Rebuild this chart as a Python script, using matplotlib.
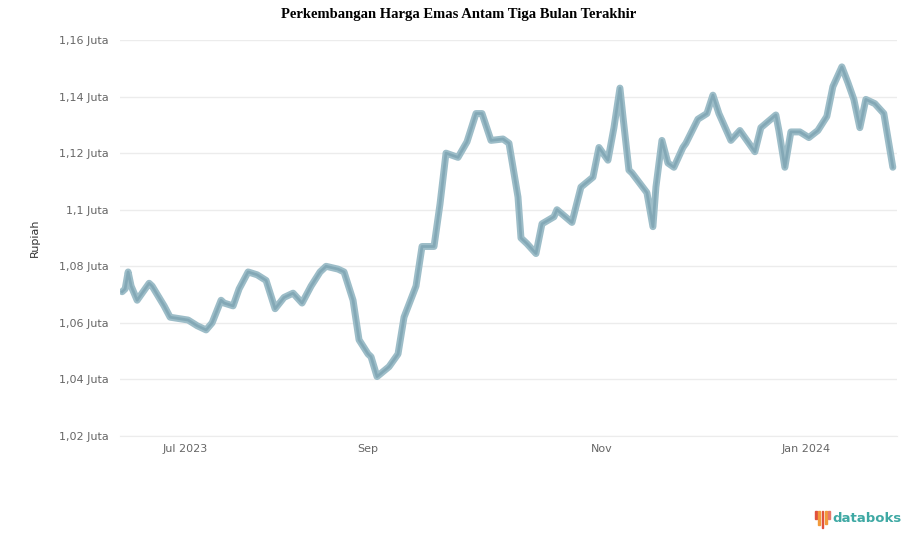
import numpy as np
import matplotlib.pyplot as plt
from matplotlib.patches import Rectangle

# Observation number (trading day index) and Antam gold price (Rupiah)
obs = [0, 1, 2, 3, 5, 9, 10, 14, 16, 22, 25, 28, 30, 33, 34, 37, 39, 42, 45, 48,
       51, 54, 57, 60, 63, 66, 68, 72, 74, 77, 79, 82, 83, 85, 89, 92, 94, 98, 100, 104,
       106, 108, 112, 115, 118, 120, 123, 127, 129, 132, 133, 135, 138, 140, 144, 145, 150, 153, 157, 159,
       162, 164, 166, 167, 169, 170, 175, 177, 178, 180, 182, 184, 187, 188, 192, 195, 197, 199, 203, 206,
       211, 213, 218, 219, 221, 223, 226, 229, 232, 235, 237, 240, 242, 244, 246, 248, 251, 254, 257]
harga = [1071000, 1072000, 1078000, 1073000, 1068000, 1074000, 1073000, 1066000, 1062000, 1061000,
         1059000, 1057500, 1060000, 1068000, 1067000, 1066000, 1072000, 1078000, 1077000, 1075000,
         1065000, 1069000, 1070500, 1067000, 1073000, 1078000, 1080000, 1079000, 1078000, 1068000,
         1054000, 1049000, 1048000, 1041000, 1044500, 1049000, 1062000, 1073000, 1087000, 1087000,
         1102000, 1120000, 1118500, 1124000, 1134000, 1134000, 1124500, 1125000, 1123500, 1104500,
         1090000, 1088000, 1084500, 1095000, 1097500, 1100000, 1095500, 1108000, 1111500, 1122000,
         1117500, 1129000, 1143000, 1133000, 1114000, 1113000, 1106000, 1094000, 1108000, 1124500,
         1116500, 1115000, 1122000, 1123500, 1132000, 1134000, 1140500, 1134000, 1124500, 1128000,
         1120500, 1129000, 1133500, 1128000, 1115000, 1127500, 1127500, 1125500, 1128000, 1133000,
         1143500, 1150500, 1145000, 1139000, 1129000, 1139000, 1137500, 1134000, 1115000]

xtick_pos = [21, 82, 160, 228]
xtick_labels = ["Jul 2023", "Sep", "Nov", "Jan 2024"]
ytick_vals = [1020000, 1040000, 1060000, 1080000, 1100000, 1120000, 1140000, 1160000]
ytick_labels = ["1,02 Juta", "1,04 Juta", "1,06 Juta", "1,08 Juta",
                "1,1 Juta", "1,12 Juta", "1,14 Juta", "1,16 Juta"]

fig = plt.figure(figsize=(9.17, 5.47), dpi=100)
ax = fig.add_axes([0.1309, 0.2029, 0.847, 0.724])

ax.plot(obs, harga, color="#9dbdc8", linewidth=5, solid_joinstyle="round",
        solid_capstyle="round")
ax.plot(obs, harga, color="#6f98a8", linewidth=2, alpha=0.55)

ax.set_xlim(-0.7, 258.3)
ax.set_ylim(1020000, 1160000)
ax.set_yticks(ytick_vals)
ax.set_yticklabels(ytick_labels)
ax.set_xticks(xtick_pos)
ax.set_xticklabels(xtick_labels)
ax.tick_params(axis="both", length=0, labelsize=8, colors="#666666")
ax.tick_params(axis="y", pad=8)
ax.tick_params(axis="x", pad=6)
ax.grid(axis="y", color="#ececec", linewidth=1)
ax.set_axisbelow(True)
for s in ax.spines.values():
    s.set_visible(False)
ax.spines["bottom"].set_visible(True)
ax.spines["bottom"].set_color("#ececec")
ax.set_ylabel("Rupiah", fontsize=8, color="#333333", labelpad=14)

fig.text(0.5, 0.985, "Perkembangan Harga Emas Antam Tiga Bulan Terakhir",
         ha="center", va="top", fontsize=10.5, fontweight="bold",
         family="Liberation Serif")

# databoks logo
fig.text(0.983, 0.052, "databoks", ha="right", va="center", fontsize=9.5,
         fontweight="bold", color="#3fa9a4")
bar_cols = ["#e0513d", "#f29a3b", "#e0513d", "#f29a3b", "#e8786a"]
bar_h = [0.014, 0.026, 0.032, 0.024, 0.014]
for i, (c, h) in enumerate(zip(bar_cols, bar_h)):
    fig.patches.append(Rectangle((0.889 + i * 0.0035, 0.066 - h), 0.002, h,
                                 transform=fig.transFigure, color=c))

fig.savefig("out.png", dpi=100)
